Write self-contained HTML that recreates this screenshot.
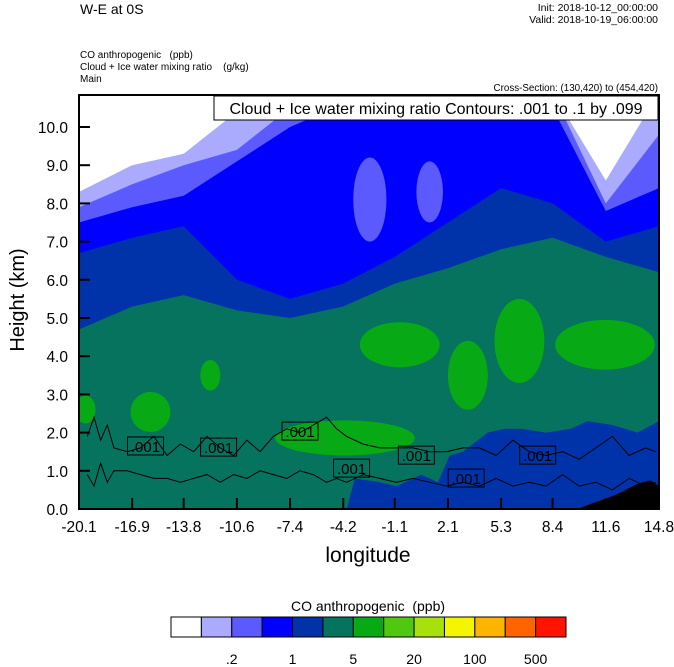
<!DOCTYPE html>
<html><head><meta charset="utf-8"><style>
html,body{margin:0;padding:0;background:#fff;}
svg{display:block;font-family:"Liberation Sans",Arial,sans-serif;}
text{white-space:pre;}
</style></head><body>
<svg id="chart" width="674" height="667" viewBox="0 0 674 667" xmlns="http://www.w3.org/2000/svg">
<text x="80" y="14" font-size="14">W-E at 0S</text>
<text x="658" y="11" font-size="10.5" text-anchor="end">Init: 2018-10-12_00:00:00</text>
<text x="658" y="23" font-size="10.5" text-anchor="end">Valid: 2018-10-19_06:00:00</text>
<text x="80" y="58" font-size="10">CO anthropogenic   (ppb)</text>
<text x="80" y="70" font-size="10">Cloud + Ice water mixing ratio    (g/kg)</text>
<text x="80" y="82" font-size="10">Main</text>
<text x="658" y="91" font-size="9.8" text-anchor="end">Cross-Section: (130,420) to (454,420)</text>
<defs><clipPath id="pc"><rect x="79" y="95" width="580" height="414"/></clipPath></defs>
<g id="field" clip-path="url(#pc)"></g>
<rect x="79" y="95" width="580" height="414" fill="none" stroke="#000" stroke-width="2"/>
<g id="axes"></g>
<rect x="214" y="96" width="444" height="24" fill="#fff" stroke="#000" stroke-width="1"/>
<text x="436" y="114" font-size="16" text-anchor="middle">Cloud + Ice water mixing ratio Contours: .001 to .1 by .099</text>
<text x="24" y="300" font-size="20" text-anchor="middle" transform="rotate(-90 24 300)">Height (km)</text>
<text x="368" y="562" font-size="21" text-anchor="middle">longitude</text>
<text x="368" y="611" font-size="14" text-anchor="middle">CO anthropogenic  (ppb)</text>
<g id="cbar"></g>
</svg>
<script>
const lons=[-20.1,-16.9,-13.8,-10.6,-7.4,-4.2,-1.1,2.1,5.3,8.4,11.6,14.8];
const whiteB=[8.3,9.0,9.3,10.4,10.9,10.9,10.9,10.9,10.9,10.9,8.6,10.9];
const lightB=[7.9,8.5,9.0,9.4,10.5,10.9,10.9,10.9,10.9,10.9,8.0,9.8];
const midB=[7.5,7.9,8.2,9.1,10.0,10.6,10.9,10.9,10.9,10.5,7.8,8.4];
const blueB=[6.7,7.1,7.4,6.0,5.5,5.9,6.6,7.5,8.4,8.0,7.0,7.4];
const tealTop=[4.7,5.3,5.6,5.2,5.0,5.3,5.9,6.3,6.8,7.1,6.6,6.2];
const blobLon=[-2.6,1.0,-0.8,3.3,6.4,11.55,-12.2,-15.8,-19.7,-4.1];
const blobKm=[8.1,8.3,4.3,3.5,4.4,4.3,3.5,2.54,2.6,1.86];
const blobW=[2.0,1.6,4.8,2.4,3.0,6.0,1.2,2.4,1.2,8.4];
const blobH=[2.2,1.6,1.18,1.8,2.2,1.3,0.8,1.05,0.73,0.92];
const blobLevel=[2,2,6,6,6,6,6,6,6,6];
const lowLons=[-4.0,-3.5,-2.0,-1.0,0.5,1.5,2.2,3.0,4.5,5.5,6.5,8.0,9.5,10.5,12.0,13.5,14.8];
const lowKm=[0,0.8,0.7,0.6,0.9,0.7,1.4,1.5,2.0,2.1,2.1,2.0,2.1,2.3,2.2,2.0,2.3];
const terrLons=[9.9,10.8,11.8,12.6,13.2,13.8,14.3,14.8];
const terrKm=[0,0.15,0.3,0.45,0.6,0.7,0.75,0.6];
const cLons=[-19.6,-19.2,-18.8,-18.4,-18,-17.2,-16.4,-15.6,-14.8,-14,-13.2,-12.4,-11.6,-10.8,-10,-9.2,-8.4,-7.6,-6.8,-6,-5.2,-4.6,-4,-3,-2,-1,0,1,2,3,4,5,6,7,8,9,10,11,12,13,14,14.6];
const cUpper=[1.9,2.4,1.8,2.2,1.6,1.5,1.6,1.9,1.4,1.7,1.5,1.9,1.6,1.4,1.8,1.5,1.9,2.1,2.0,2.2,2.4,2.1,1.9,1.7,1.6,1.6,1.6,1.5,1.5,1.6,1.6,1.4,1.8,1.5,1.4,1.5,1.3,1.6,1.9,1.4,1.6,1.5];
const cLower=[0.9,0.6,1.2,0.7,1.0,1.0,0.9,0.8,0.8,0.7,0.8,0.9,0.7,0.9,0.8,1.0,0.9,0.8,1.0,0.9,0.7,0.8,0.7,0.9,0.8,0.7,0.8,0.7,0.6,0.7,0.6,0.8,0.6,0.7,0.6,0.9,0.6,0.7,0.5,0.8,0.6,0.7];
const labLon=[-16.1,-11.7,-6.8,-3.7,0.2,3.2,7.5];
const labKm=[1.65,1.62,2.04,1.07,1.41,0.81,1.41];
const yTicks=[0,1,2,3,4,5,6,7,8,9,10];
const yTickLabels=["0.0","1.0","2.0","3.0","4.0","5.0","6.0","7.0","8.0","9.0","10.0"];
const xTickLabels=["-20.1","-16.9","-13.8","-10.6","-7.4","-4.2","-1.1","2.1","5.3","8.4","11.6","14.8"];
const cbColors=["#ffffff","#aaaaff","#5a5aff","#0000ff","#0033aa","#06735f","#07aa14","#50c80f","#a8e00c","#f5f500","#ffb400","#ff6400","#ff1400"];
const cbLabels=[".2","1","5","20","100","500"];
const cbLabelIdx=[2,4,6,8,10,12];

const NS="http://www.w3.org/2000/svg";
const X0=79,X1=659,Y0=509,PXKM=38.2;
function xs(l){return X0+(l+20.1)/34.9*(X1-X0);}
function ys(k){return Y0-k*PXKM;}
function mk(t,a,p){const e=document.createElementNS(NS,t);for(const k in a)e.setAttribute(k,a[k]);p.appendChild(e);return e;}
const field=document.getElementById('field');
const axes=document.getElementById('axes');
const cbar=document.getElementById('cbar');
function below(arr,col,name){
  let d='M'+(X0-2)+','+(Y0+2);
  lons.forEach((l,i)=>{d+=' L'+xs(l).toFixed(1)+','+ys(arr[i]).toFixed(1);});
  d+=' L'+(X1+2)+','+ys(arr[arr.length-1]).toFixed(1)+' L'+(X1+2)+','+(Y0+2)+'Z';
  const p=mk('path',{d:d,fill:col},field);
  
  
}
const bg=mk('rect',{x:X0,y:95,width:580,height:414,fill:cbColors[0]},field);


below(whiteB,cbColors[1],'level-light-blue');
below(lightB,cbColors[2],'level-mid-blue');
below(midB,cbColors[3],'level-blue');
below(blueB,cbColors[4],'level-dark-blue');
below(tealTop,cbColors[5],'level-teal');
blobLon.forEach((l,i)=>{
  const e=mk('ellipse',{cx:xs(l),cy:ys(blobKm[i]),rx:(xs(blobW[i])-xs(0))/2,ry:blobH[i]*PXKM/2,fill:cbColors[blobLevel[i]]},field);
  
  
});
{let d='M'+xs(lowLons[0])+','+Y0;
 lowLons.forEach((l,i)=>{d+=' L'+xs(l).toFixed(1)+','+ys(lowKm[i]).toFixed(1);});
 d+=' L'+(X1+2)+','+Y0+'Z';
 const p=mk('path',{d:d,fill:cbColors[4]},field);
 
 }
function line(arr,name){
  let d='';cLons.forEach((l,i)=>{d+=(i?' L':'M')+xs(l).toFixed(1)+','+ys(arr[i]).toFixed(1);});
  const p=mk('path',{d:d,fill:'none',stroke:'#000','stroke-width':1},field);
  
  
}
line(cUpper,'cloud-contour-upper');
line(cLower,'cloud-contour-lower');
labLon.forEach((l,i)=>{
  const g=mk('g',{},field);
  
  
  mk('rect',{x:xs(l)-18,y:ys(labKm[i])-9,width:36,height:18,fill:'none',stroke:'#000','stroke-width':1},g);
  const t=mk('text',{x:xs(l),y:ys(labKm[i])+6,'font-size':15,'text-anchor':'middle'},g);t.textContent='.001';
});
{let d='M'+xs(terrLons[0])+','+(Y0+2);
 terrLons.forEach((l,i)=>{d+=' L'+xs(l).toFixed(1)+','+ys(terrKm[i]).toFixed(1);});
 d+=' L'+(X1+2)+','+(Y0+2)+'Z';
 const p=mk('path',{d:d,fill:'#000'},field);
 
 }
yTicks.forEach((k,i)=>{
  const tk=mk('line',{x1:X0,x2:X0+11,y1:ys(k),y2:ys(k),stroke:'#000','stroke-width':2},axes);
  
  
  const t=mk('text',{x:68,y:ys(k)+6,'font-size':15.5,'text-anchor':'end'},axes);
  t.textContent=yTickLabels[i];
  
  
});
lons.forEach((l,i)=>{
  const tk=mk('line',{x1:xs(l),x2:xs(l),y1:Y0,y2:Y0-11,stroke:'#000','stroke-width':2},axes);
  
  
  const t=mk('text',{x:xs(l),y:532,'font-size':15.5,'text-anchor':'middle'},axes);
  t.textContent=xTickLabels[i];
  
  
});
const cbX=171,cbW=(566-171)/13;
cbColors.forEach((c,i)=>{
  const r=mk('rect',{x:cbX+i*cbW,y:617,width:cbW,height:20,fill:c,stroke:'#000','stroke-width':1},cbar);
  
  
});
cbLabels.forEach((s,i)=>{
  const t=mk('text',{x:cbX+cbLabelIdx[i]*cbW,y:664,'font-size':14,'text-anchor':'middle'},cbar);
  t.textContent=s;
  
  
});
</script>
</body></html>
